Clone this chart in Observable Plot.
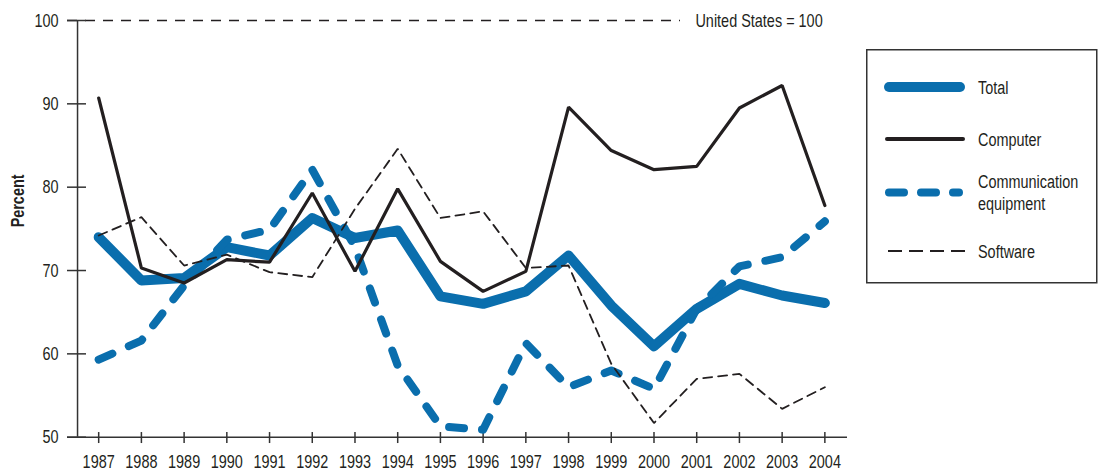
<!DOCTYPE html>
<html>
<head>
<meta charset="utf-8">
<script src="https://cdn.jsdelivr.net/npm/d3@7"></script>
<script src="https://cdn.jsdelivr.net/npm/@observablehq/plot@0.6"></script>
<style>
  body { margin: 0; background: #fff; }
  #wrap { position: relative; width: 1099px; height: 472px; }
</style>
</head>
<body>
<div id="wrap"></div>
<script>
const years = [1987,1988,1989,1990,1991,1992,1993,1994,1995,1996,1997,1998,1999,2000,2001,2002,2003,2004];
const total    = [74.0,68.8,69.1,72.8,71.8,76.3,73.9,74.8,66.9,66.0,67.5,71.8,65.8,60.9,65.4,68.4,67.0,66.1];
const computer = [90.7,70.3,68.5,71.3,71.0,79.3,69.9,79.8,71.1,67.5,69.9,89.6,84.4,82.1,82.5,89.5,92.2,77.8];
const commEq   = [59.3,61.6,68.2,73.7,74.9,82.1,72.8,58.6,51.3,50.9,61.3,56.0,58.0,55.8,65.4,70.5,71.6,75.9];
const software = [74.2,76.4,70.6,71.9,69.8,69.2,77.4,84.6,76.3,77.1,70.3,70.6,58.8,51.7,57.0,57.6,53.4,56.0];
const yTicks = [50,60,70,80,90,100];
const seriesNames = ["Total","Computer","Communication equipment","Software"];
const refLabel = "United States = 100";
const yLabel = "Percent";

const BLUE = "#0a6ead";
const BLACK = "#231f20";
const FONT = '"Liberation Sans", Arial, sans-serif';
const SQUEEZE = 0.76;

const toRows = vals => years.map((y, i) => ({year: y, value: vals[i]}));

const xDomain = [1986.27, 2004.53];
const plot = Plot.plot({
  width: 1099,
  height: 472,
  marginLeft: 67,
  marginRight: 252,
  marginTop: 20,
  marginBottom: 35.3,
  style: {fontFamily: FONT, fontSize: "19px", color: "#231f20", background: "#fff"},
  x: {domain: xDomain, axis: null},
  y: {domain: [50, 100], axis: null},
  marks: [
    Plot.ruleY([100], {x1: xDomain[0], x2: 2000.62, stroke: BLACK, strokeWidth: 1.3, strokeDasharray: "10,8"}),
    Plot.text([refLabel], {x: 2000.97, y: 100, text: d => d, textAnchor: "start", fontSize: 19, fill: BLACK}),
    Plot.ruleY([50], {x1: xDomain[0], x2: xDomain[1], stroke: "#333", strokeWidth: 1.5}),
    Plot.ruleX([1986.505], {y1: 50, y2: 100, stroke: "#333", strokeWidth: 1.5}),
    Plot.ruleY(yTicks, {x1: xDomain[0], x2: 1986.715, stroke: "#333", strokeWidth: 1.5}),
    Plot.ruleX(years, {y1: 50.56, y2: 49.24, stroke: "#333", strokeWidth: 1.5}),
    Plot.axisY({ticks: yTicks, tickSize: 0, tickPadding: 9, anchor: "left", label: null, fontSize: 19}),
    Plot.axisX({ticks: years, tickSize: 0, tickPadding: 17, anchor: "bottom", label: null, tickFormat: d => String(d), fontSize: 19}),
    Plot.text([yLabel], {frameAnchor: "left", dx: -49.5, dy: -1.5, rotate: -90, text: d => d, fontWeight: "bold", fontSize: 18, fill: BLACK}),
    Plot.line(toRows(total), {x: "year", y: "value", stroke: BLUE, strokeWidth: 10, strokeLinejoin: "round", strokeLinecap: "round"}),
    Plot.line(toRows(commEq), {x: "year", y: "value", stroke: BLUE, strokeWidth: 8, strokeDasharray: "15,18", strokeLinecap: "round", strokeLinejoin: "round"}),
    Plot.line(toRows(software), {x: "year", y: "value", stroke: BLACK, strokeWidth: 1.8, strokeDasharray: "9,6", strokeLinejoin: "miter"}),
    Plot.line(toRows(computer), {x: "year", y: "value", stroke: BLACK, strokeWidth: 3.2, strokeLinejoin: "miter"})
  ]
});
document.getElementById("wrap").appendChild(plot);

// condense plot text horizontally to mimic a condensed typeface
plot.querySelectorAll("text").forEach(t => {
  const len = t.getComputedTextLength();
  if (len > 0) {
    const f = t.textContent === yLabel ? 0.80 : SQUEEZE;
    t.setAttribute("textLength", (len * f).toFixed(2));
    t.setAttribute("lengthAdjust", "spacingAndGlyphs");
  }
});

// Legend box
const legend = d3.select("#wrap").append("svg")
  .attr("width", 232).attr("height", 235)
  .style("position", "absolute").style("left", "866px").style("top", "49px");
legend.append("rect").attr("x", 0.75).attr("y", 0.75).attr("width", 230).attr("height", 233)
  .attr("fill", "#fff").attr("stroke", "#333").attr("stroke-width", 1.5);
const items = [
  {y: 38, stroke: BLUE, sw: 10, dash: null, cap: "round", x1: 23, x2: 94},
  {y: 90, stroke: BLACK, sw: 4, dash: null, cap: "round", x1: 21, x2: 97},
  {y: 143.5, stroke: BLUE, sw: 8, dash: "15,17", cap: "round", x1: 23, x2: 93},
  {y: 202, stroke: BLACK, sw: 2, dash: "14,7", cap: "butt", x1: 22, x2: 99}
];
items.forEach(it => {
  legend.append("line").attr("x1", it.x1).attr("x2", it.x2).attr("y1", it.y).attr("y2", it.y)
    .attr("stroke", it.stroke).attr("stroke-width", it.sw).attr("stroke-linecap", it.cap)
    .attr("stroke-dasharray", it.dash);
});
const txt = (s, y) => legend.append("g")
  .attr("transform", `translate(112,${y}) scale(${SQUEEZE},1)`)
  .append("text").attr("x", 0).attr("y", 0).attr("dy", "0.35em")
  .attr("font-family", FONT).attr("font-size", 19).attr("fill", BLACK).text(s);
txt(seriesNames[0], 38);
txt(seriesNames[1], 90);
const parts = seriesNames[2].split(" ");
txt(parts[0], 132.5);
txt(parts[1], 154);
txt(seriesNames[3], 202);
</script>
</body>
</html>
